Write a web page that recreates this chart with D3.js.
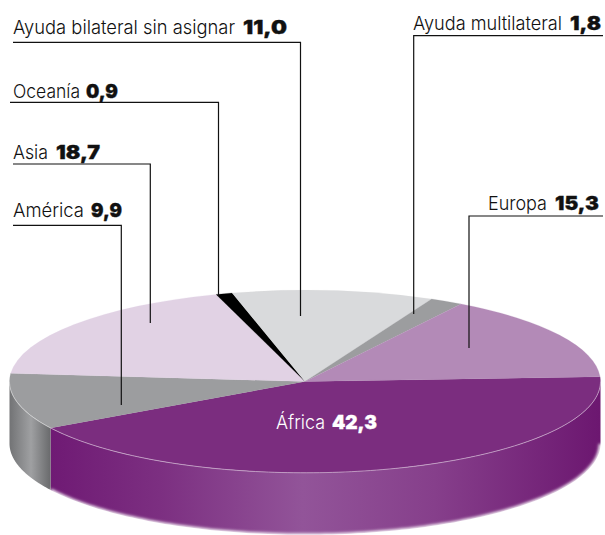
<!DOCTYPE html>
<html lang="es">
<head>
<meta charset="utf-8">
<style>
html,body{margin:0;padding:0;background:#fff;}
svg{display:block;}
text{font-family:Inter,Roboto,sans-serif;}
</style>
<script src="https://cdnjs.cloudflare.com/ajax/libs/d3/7.8.5/d3.min.js"></script>
</head>
<body>
<script>
(function(){
// Data (clockwise from the right edge)
const categories = ["África","América","Asia","Oceanía","Ayuda bilateral sin asignar","Ayuda multilateral","Europa"];
const values = [42.3,9.9,18.7,0.9,11.0,1.8,15.3];
const topColors = ["#7b2d7f","#9c9d9f","#e1d2e4","#000000","#d9dadc","#9c9d9f","#b38ab7"];
const wallColorIds = ["wallPurple","wallGray",null,null,null,null,null];

// Label layout: text spans, baseline, and leader path (annotation only)
const labelLayout = {
  "Ayuda bilateral sin asignar":{x0:13,x1:235,v0:243,v1:287,base:33.5,line:[[13,42.3],[300.5,42.3],[300.5,316]]},
  "Oceanía":{x0:13,x1:80,v0:86,v1:118,base:97.7,line:[[10,102.3],[218.5,102.3],[218.5,296]]},
  "Asia":{x0:13,x1:48,v0:56,v1:100,base:158.7,line:[[13,164],[150.3,164],[150.3,323]]},
  "América":{x0:13,x1:84,v0:91,v1:122,base:216.7,line:[[13,225.3],[121.3,225.3],[121.3,405]]},
  "Ayuda multilateral":{x0:413,x1:562,v0:570,v1:601,base:30,line:[[603,35.6],[413.7,35.6],[413.7,314]]},
  "Europa":{x0:488,x1:547,v0:555,v1:599,base:210,line:[[603,216],[469,216],[469,348]]},
  "África":{x0:276,x1:325,v0:332,v1:377,base:429,fill:"#fff"}
};

const W=605,H=535;
const cx=305,cy=381.5,rx=295.5,ry=91.3,depth=62;
const startDeg=-3; // screen angle of the first slice's edge, clockwise from east
const toRad=d=>d*Math.PI/180;

const svg=d3.select("body").append("svg").attr("width",W).attr("height",H).attr("viewBox",`0 0 ${W} ${H}`);
const defs=svg.append("defs");
defs.append("filter").attr("id","soft").attr("x","-10%").attr("y","-200%").attr("width","120%").attr("height","500%")
  .append("feGaussianBlur").attr("stdDeviation",1.6);

function hGrad(id,x1,x2,stops){
  const g=defs.append("linearGradient").attr("id",id).attr("gradientUnits","userSpaceOnUse")
    .attr("x1",x1).attr("x2",x2).attr("y1",0).attr("y2",0);
  stops.forEach(s=>g.append("stop").attr("offset",s[0]).attr("stop-color",s[1]));
}
hGrad("wallPurple",50,600,[[0,"#6f1a74"],[0.2,"#7c2f81"],[0.46,"#925499"],[0.7,"#863f8b"],[1,"#6c1770"]]);
hGrad("wallGray",10,52,[[0,"#737476"],[0.5,"#9fa0a2"],[1,"#656668"]]);

const pie=d3.pie().sort(null).value(d=>d)
  .startAngle(Math.PI/2+toRad(startDeg))
  .endAngle(Math.PI/2+toRad(startDeg)+2*Math.PI);
const slices=pie(values);

// Walls
const ex=a=>cx+rx*Math.sin(a), ey=a=>cy-ry*Math.cos(a);
const wallArea=d3.area().x(a=>ex(a)).y0(a=>ey(a)).y1(a=>ey(a)+depth);
const rimLine=d3.line().x(a=>ex(a)).y(a=>ey(a));
const visibleAngles=s=>{
  const a0=Math.max(s.startAngle,Math.PI/2), a1=Math.min(s.endAngle,3*Math.PI/2);
  return a1>a0?d3.range(0,121).map(i=>a0+(a1-a0)*i/120):[];
};
const walls=svg.append("g");
slices.forEach((s,i)=>{
  if(!wallColorIds[i])return;
  const pts=visibleAngles(s);
  if(!pts.length)return;
  walls.append("path").attr("d",wallArea(pts)).attr("fill",`url(#${wallColorIds[i]})`);
});

// Soft fade at the bottom of the wall
svg.append("path")
  .attr("d",rimLine(visibleAngles(slices[0])).replace(/^/,""))
  .attr("transform",`translate(0,${depth+0.5})`)
  .attr("fill","none").attr("stroke","#fff").attr("stroke-width",3.5)
  .attr("filter","url(#soft)");

// Top face
const arc=d3.arc().innerRadius(0).outerRadius(rx);
const face=svg.append("g").attr("transform",`translate(${cx},${cy}) scale(1,${ry/rx})`);
face.selectAll("path").data(slices).join("path")
  .attr("d",arc).attr("fill",(d,i)=>topColors[i])
  .attr("stroke",(d,i)=>topColors[i]).attr("stroke-width",0.3);

// Pale rim between face and wall
slices.forEach((s,i)=>{
  if(!wallColorIds[i])return;
  svg.append("path").attr("d",rimLine(visibleAngles(s))).attr("fill","none")
    .attr("stroke",i===0?"#c9a9cc":"#d4d5d6").attr("stroke-width",0.8);
});

// Leaders
const leader=d3.line();
categories.forEach(c=>{
  const l=labelLayout[c];
  if(l.line) svg.append("path").attr("d",leader(l.line)).attr("fill","none")
    .attr("stroke","#111").attr("stroke-width",1.2);
});

// Labels
const fmt=v=>v.toFixed(1).replace(".",",");
categories.forEach((c,i)=>{
  const l=labelLayout[c], fill=l.fill||"#111";
  svg.append("text").attr("x",l.x0).attr("y",l.base).attr("font-size",19).attr("font-weight",300)
    .attr("fill",fill).attr("textLength",l.x1-l.x0).attr("lengthAdjust","spacingAndGlyphs").text(c);
  svg.append("text").attr("x",l.v0).attr("y",l.base).attr("font-size",19).attr("font-weight",900)
    .attr("fill",fill).attr("stroke",fill).attr("stroke-width",0.35)
    .attr("textLength",l.v1-l.v0).attr("lengthAdjust","spacingAndGlyphs").text(fmt(values[i]));
});
})();
</script>
</body>
</html>
